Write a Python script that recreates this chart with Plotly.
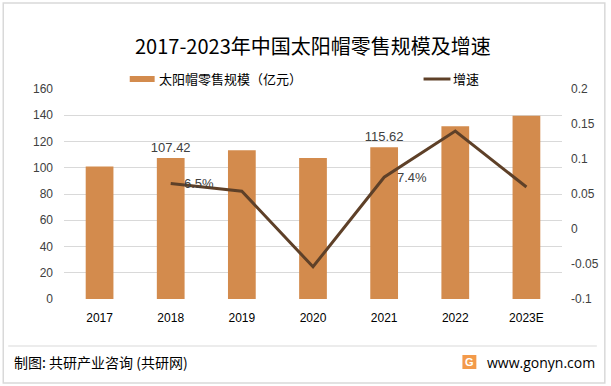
import plotly.graph_objects as go

years = ["2017", "2018", "2019", "2020", "2021", "2022", "2023E"]
retail = [100.86, 107.42, 113.3, 107.4, 115.62, 131.6, 139.6]
growth = [None, 0.065, 0.054, -0.054, 0.074, 0.140, 0.060]
retail_labels = ["", "107.42", "", "", "115.62", "", ""]
growth_labels = ["", "6.5%", "", "", "7.4%", "", ""]
left_ticks = [0, 20, 40, 60, 80, 100, 120, 140, 160]
right_ticks = [-0.1, -0.05, 0, 0.05, 0.1, 0.15, 0.2]
right_ticktext = ["-0.1", "-0.05", "0", "0.05", "0.1", "0.15", "0.2"]

BAR = "#D38B4D"
LINE = "#5E4028"
CJK = "Noto Sans CJK SC"
NUM = "Liberation Sans"

fig = go.Figure()
fig.add_trace(go.Bar(
    x=years, y=retail, name="太阳帽零售规模（亿元）",
    marker=dict(color=BAR, line=dict(width=0)), width=0.39,
    text=retail_labels, textposition="outside", cliponaxis=False,
    constraintext="none",
    textfont=dict(family=NUM, size=13, color="#404040"),
    yaxis="y",
))
fig.add_trace(go.Scatter(
    x=years, y=growth, name="增速", mode="lines",
    line=dict(color=LINE, width=3),
    yaxis="y2", cliponaxis=False,
))
for i, (g, lab) in enumerate(zip(growth, growth_labels)):
    if lab:
        fig.add_annotation(x=i, y=g, xref="x", yref="y2", text=lab,
                           xanchor="left", yanchor="middle", xshift=11, showarrow=False,
                           font=dict(family=NUM, size=13, color="#404040"))

fig.update_layout(
    width=611, height=386,
    margin=dict(l=64, r=47, t=89, b=87),
    paper_bgcolor="white", plot_bgcolor="white",
    showlegend=False,
    bargap=0.61,
    font=dict(family=NUM, size=12, color="#404040"),
    xaxis=dict(
        type="category", categoryorder="array", categoryarray=years,
        range=[-0.5, len(years) - 0.5],
        showgrid=False, showline=False, zeroline=False,
        ticks="", ticklabelstandoff=10,
        tickfont=dict(family=NUM, size=12, color="#000000"),
    ),
    yaxis=dict(
        range=[0, 160], tickvals=left_ticks, showgrid=True,
        gridcolor="#D9D9D9", gridwidth=1, zeroline=False, showline=False,
        ticks="", ticklabelstandoff=10,
        tickfont=dict(family=NUM, size=12, color="#404040"),
    ),
    yaxis2=dict(
        range=[-0.1, 0.2], overlaying="y", side="right",
        tickvals=right_ticks, ticktext=right_ticktext,
        showgrid=False, zeroline=False, showline=False, ticks="",
        ticklabelstandoff=8,
        tickfont=dict(family=NUM, size=12, color="#404040"),
    ),
)

# title
fig.add_annotation(text="2017-2023年中国太阳帽零售规模及增速", xref="paper", yref="paper",
                   x=0.5, y=1, yshift=44, xanchor="center", yanchor="middle",
                   showarrow=False, font=dict(family=CJK, size=20, color="#000000"))

# manual legend
H = 386; T = 89; B = 87; PH = H - T - B
def py(ypix):
    return (H - B - ypix) / PH
W = 611; L = 64; R = 47; PW = W - L - R
def px(xpix):
    return (xpix - L) / PW

fig.add_shape(type="rect", xref="paper", yref="paper",
              x0=px(130), x1=px(155), y0=py(82), y1=py(76),
              fillcolor=BAR, line=dict(width=0))
fig.add_annotation(text="太阳帽零售规模（亿元）", xref="paper", yref="paper",
                   x=px(157), y=py(79), xanchor="left", yanchor="middle",
                   showarrow=False, font=dict(family=CJK, size=13, color="#000000"))
fig.add_shape(type="line", xref="paper", yref="paper",
              x0=px(425), x1=px(452), y0=py(79), y1=py(79),
              line=dict(color=LINE, width=3))
fig.add_annotation(text="增速", xref="paper", yref="paper",
                   x=px(453), y=py(79), xanchor="left", yanchor="middle",
                   showarrow=False, font=dict(family=CJK, size=13, color="#000000"))

# footer
fig.add_shape(type="line", xref="paper", yref="paper",
              x0=px(8), x1=px(599), y0=py(346), y1=py(346),
              line=dict(color="#D9D9D9", width=1))
fig.add_annotation(text="制图: 共研产业咨询 (共研网)", xref="paper", yref="paper",
                   x=px(12), y=py(362), xanchor="left", yanchor="middle",
                   showarrow=False, font=dict(family=CJK, size=14, color="#000000"))
fig.add_annotation(text="www.gonyn.com", xref="paper", yref="paper",
                   x=px(599), y=py(362), xanchor="right", yanchor="middle",
                   showarrow=False, font=dict(family="Open Sans", size=14, color="#000000"))
fig.add_shape(type="rect", xref="paper", yref="paper",
              x0=px(464), x1=px(478), y0=py(369), y1=py(355),
              fillcolor="#F39A4A", line=dict(width=0))
fig.add_annotation(text="<b>G</b>", xref="paper", yref="paper",
                   x=px(471), y=py(362), xanchor="center", yanchor="middle",
                   showarrow=False, font=dict(family=NUM, size=11, color="white"))

# outer border
fig.add_shape(type="rect", xref="paper", yref="paper",
              x0=px(3), x1=px(607), y0=py(383), y1=py(3),
              line=dict(color="#D9D9D9", width=1.5), fillcolor="rgba(0,0,0,0)")

fig.write_html("out.html", config={"displayModeBar": False},
               post_script="document.body.style.margin='0';document.body.style.padding='0';")
